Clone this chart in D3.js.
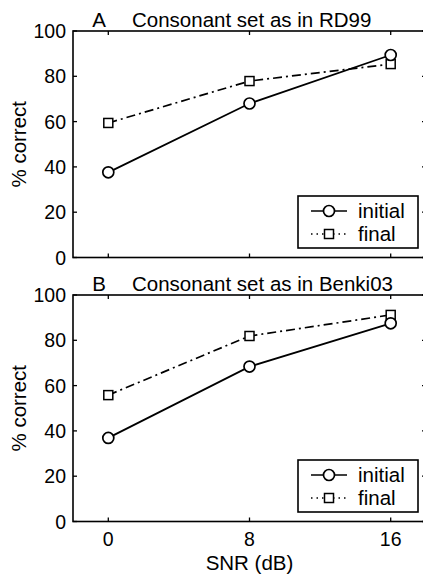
<!DOCTYPE html>
<html>
<head>
<meta charset="utf-8">
<script src="https://cdn.jsdelivr.net/npm/d3@7"></script>
<style>
  body { margin: 0; background: #fff; }
  svg { display: block; font-family: "Liberation Sans", Arial, Helvetica, sans-serif; }
</style>
</head>
<body>
<div id="chart"></div>
<script>
const snr = [0, 8, 16];
const xTicks = [0, 8, 16];
const yTicks = [0, 20, 40, 60, 80, 100];
const seriesNames = ["initial", "final"];

// panel A: consonant set as in RD99
const initialA = [37.6, 68, 89.4];
const finalA = [59.4, 77.9, 85.4];
// panel B: consonant set as in Benki03
const initialB = [36.9, 68.4, 87.5];
const finalB = [55.8, 81.9, 91.2];

const panels = [
    { letter: "A", title: "Consonant set as in RD99", initial: initialA, final: finalA, top: 31, showX: false },
    { letter: "B", title: "Consonant set as in Benki03", initial: initialB, final: finalB, top: 295, showX: true }
];

const W = 423, H = 576;
const left = 73, right = 426, plotH = 226.5;
const fs = 20.5;

const svg = d3.select("#chart").append("svg")
    .attr("width", W)
    .attr("height", H);

const x = d3.scaleLinear().domain([-2, 18]).range([left, right]);

const dashDot = "9,4,2,4";

panels.forEach(p => {
    const y = d3.scaleLinear().domain([0, 100]).range([p.top + plotH, p.top]);
    const g = svg.append("g");

    // frame
    g.append("rect")
        .attr("x", left).attr("y", p.top)
        .attr("width", right - left).attr("height", plotH)
        .attr("fill", "none").attr("stroke", "#000").attr("stroke-width", 1.6);

    // ticks pointing inward
    const tl = 4;
    g.selectAll(".xtb").data(xTicks).enter().append("line")
        .attr("x1", d => x(d)).attr("x2", d => x(d))
        .attr("y1", p.top + plotH).attr("y2", p.top + plotH - tl)
        .attr("stroke", "#000").attr("stroke-width", 1.3);
    g.selectAll(".xtt").data(xTicks).enter().append("line")
        .attr("x1", d => x(d)).attr("x2", d => x(d))
        .attr("y1", p.top).attr("y2", p.top + tl)
        .attr("stroke", "#000").attr("stroke-width", 1.3);
    g.selectAll(".ytl").data(yTicks).enter().append("line")
        .attr("x1", left).attr("x2", left + tl)
        .attr("y1", d => y(d)).attr("y2", d => y(d))
        .attr("stroke", "#000").attr("stroke-width", 1.3);
    g.selectAll(".ytr").data(yTicks).enter().append("line")
        .attr("x1", right).attr("x2", right - tl)
        .attr("y1", d => y(d)).attr("y2", d => y(d))
        .attr("stroke", "#000").attr("stroke-width", 1.3);

    // y tick labels
    g.selectAll(".ylab").data(yTicks).enter().append("text")
        .attr("x", left - 7).attr("y", d => y(d))
        .attr("dy", "0.36em")
        .attr("text-anchor", "end")
        .attr("font-size", 19.5)
        .text(d => d);

    // y axis title
    g.append("text")
        .attr("transform", `translate(${26},${p.top + plotH / 2}) rotate(-90)`)
        .attr("text-anchor", "middle")
        .attr("font-size", fs)
        .text("% correct");

    // panel title
    g.append("text")
        .attr("x", 99).attr("y", p.top - 4)
        .attr("text-anchor", "middle")
        .attr("font-size", fs)
        .text(p.letter);
    g.append("text")
        .attr("x", 132).attr("y", p.top - 4)
        .attr("font-size", fs)
        .text(p.title);

    const line = d3.line().x((d, i) => x(snr[i])).y(d => y(d));

    // final (dash-dot, squares)
    g.append("path")
        .attr("d", line(p.final))
        .attr("fill", "none").attr("stroke", "#000")
        .attr("stroke-width", 1.7).attr("stroke-dasharray", dashDot);
    g.selectAll(".sq").data(p.final).enter().append("rect")
        .attr("x", (d, i) => x(snr[i]) - 4.5).attr("y", d => y(d) - 4.5)
        .attr("width", 9).attr("height", 9)
        .attr("fill", "#fff").attr("stroke", "#000").attr("stroke-width", 1.5);

    // initial (solid, circles)
    g.append("path")
        .attr("d", line(p.initial))
        .attr("fill", "none").attr("stroke", "#000").attr("stroke-width", 1.8);
    g.selectAll(".ci").data(p.initial).enter().append("circle")
        .attr("cx", (d, i) => x(snr[i])).attr("cy", d => y(d))
        .attr("r", 5.5)
        .attr("fill", "#fff").attr("stroke", "#000").attr("stroke-width", 1.7);

    // legend
    const lx = 298, ly = p.top + 165, lw = 120, lh = 52;
    const lg = g.append("g");
    lg.append("rect")
        .attr("x", lx).attr("y", ly).attr("width", lw).attr("height", lh)
        .attr("fill", "#fff").attr("stroke", "#000").attr("stroke-width", 1.6);
    seriesNames.forEach((name, i) => {
        const ry = ly + 15 + i * 23;
        lg.append("line")
            .attr("x1", lx + 13).attr("x2", lx + 49)
            .attr("y1", ry).attr("y2", ry)
            .attr("stroke", "#000").attr("stroke-width", 1.7)
            .attr("stroke-dasharray", i === 0 ? null : "1.5,4");
        if (i === 0) {
            lg.append("circle").attr("cx", lx + 31).attr("cy", ry).attr("r", 5.5)
                .attr("fill", "#fff").attr("stroke", "#000").attr("stroke-width", 1.7);
        } else {
            lg.append("rect").attr("x", lx + 26.5).attr("y", ry - 4.5)
                .attr("width", 9).attr("height", 9)
                .attr("fill", "#fff").attr("stroke", "#000").attr("stroke-width", 1.5);
        }
        lg.append("text")
            .attr("x", lx + 60).attr("y", ry)
            .attr("dy", "0.36em")
            .attr("font-size", fs)
            .text(name);
    });

    if (p.showX) {
        g.selectAll(".xlab").data(xTicks).enter().append("text")
            .attr("x", d => x(d)).attr("y", p.top + plotH + 24)
            .attr("text-anchor", "middle")
            .attr("font-size", 19.5)
            .text(d => d);
        g.append("text")
            .attr("x", x(8)).attr("y", p.top + plotH + 48)
            .attr("text-anchor", "middle")
            .attr("font-size", fs)
            .text("SNR (dB)");
    }
});
</script>
</body>
</html>
